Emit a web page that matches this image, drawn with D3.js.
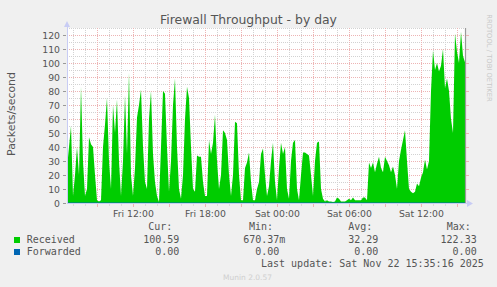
<!DOCTYPE html>
<html><head><meta charset="utf-8">
<script src="https://cdn.jsdelivr.net/npm/d3@7"></script>
<style>
html,body{margin:0;padding:0;background:#F0F0F0;}
svg{display:block;}
</style></head>
<body>
<svg id="chart" width="497" height="287"></svg>
<script>
// ---- data ----
const title = "Firewall Throughput - by day";
const yLabel = "Packets/second";
const startTime = Date.UTC(2025, 10, 21, 6, 28); // first sample
const stepMinutes = 10;
const received = [
25,40,55,5,20,40,20,83,30,5,10,47,42,40,20,2,1,2,40,56,75,30,10,70,50,74,30,5,30,77,35,93,20,5,25,61,70,81,40,15,
10,60,80,35,15,5,0.7,40,80,78,40,8,30,70,89,40,10,3,20,60,83,75,40,10,8,34,33,33,15,5,5,45,35,43,63,30,10,20,52,50,
45,20,5,20,58,57,20,2,2,25,29,36,15,2,2,10,15,35,39,20,5,12,30,43,15,2,25,43,35,40,10,3,30,43,45,10,2,20,36,36,
35,34,20,5,30,43,44,10,3,
1,2,1,1,0.7,1,4,3,1,1,1,2,3,2,4,2,2,2,2,4,4,2,29,25,29,22,28,33,25,22,33,30,27,22,26,20,10,30,38,45,52,30,10,8,7,8,
14,12,18,22,31,24,30,80,109,95,100,94,98,110,82,89,80,60,50,121,108,100,122.33,105,100.59
];
const forwarded = received.map(() => 0);
const yMajorTicks = [0,10,20,30,40,50,60,70,80,90,100,110,120];
const yMinorTicks = [5,15,25,35,45,55,65,75,85,95,105,115,125];
const legendHeaders = ["Cur:", "Min:", "Avg:", "Max:"];
const receivedStats = ["100.59", "670.37m", "32.29", "122.33"];
const forwardedStats = ["0.00", "0.00", "0.00", "0.00"];
const seriesNames = ["Received", "Forwarded"];
const seriesColors = ["#00CC00", "#0066B3"];
const lastUpdate = "Last update: Sat Nov 22 15:35:16 2025";
const footer = "Munin 2.0.57";
const watermark = "RRDTOOL / TOBI OETIKER";

// ---- layout ----
const svg = d3.select("#chart");
const L = 67, R = 466, T = 28, B = 203;
const times = received.map((d, i) => new Date(startTime + i * stepMinutes * 60000));
const x = d3.scaleUtc()
  .domain([new Date(Date.UTC(2025,10,21,6,28)), new Date(Date.UTC(2025,10,22,15,48))])
  .range([67, 467]);
const y = d3.scaleLinear().domain([0, 125]).range([B, T]);

svg.append("rect").attr("width", 497).attr("height", 287).attr("fill", "#F0F0F0");
svg.append("rect").attr("x", L).attr("y", T).attr("width", R - L).attr("height", B - T).attr("fill", "#FFFFFF");

const grid = svg.append("g").attr("shape-rendering", "crispEdges");
const hours = d3.utcHour.range(x.domain()[0], x.domain()[1]);
const minorHours = hours.filter(h => h.getUTCHours() % 3 !== 0);
const majorHours = hours.filter(h => h.getUTCHours() % 3 === 0);
const labelHours = hours.filter(h => h.getUTCHours() % 6 === 0);
const minorColor = "#D2D2D2", majorColor = "#EDB4B4";

// minor grid
grid.selectAll(".vmin").data(minorHours).join("line")
  .attr("x1", d => Math.round(x(d)) + 0.5).attr("x2", d => Math.round(x(d)) + 0.5)
  .attr("y1", T).attr("y2", B)
  .attr("stroke", minorColor).attr("stroke-dasharray", "1,1");
grid.selectAll(".hmin").data(yMinorTicks).join("line")
  .attr("x1", L).attr("x2", R)
  .attr("y1", d => Math.round(y(d)) + 0.5).attr("y2", d => Math.round(y(d)) + 0.5)
  .attr("stroke", minorColor).attr("stroke-dasharray", "1,1");
// major grid
grid.selectAll(".vmaj").data(majorHours).join("line")
  .attr("x1", d => Math.round(x(d)) + 0.5).attr("x2", d => Math.round(x(d)) + 0.5)
  .attr("y1", T).attr("y2", B)
  .attr("stroke", majorColor).attr("stroke-dasharray", "1,1");
grid.selectAll(".hmaj").data(yMajorTicks.filter(v => v > 0)).join("line")
  .attr("x1", L).attr("x2", R)
  .attr("y1", d => Math.round(y(d)) + 0.5).attr("y2", d => Math.round(y(d)) + 0.5)
  .attr("stroke", majorColor).attr("stroke-dasharray", "1,1");

// area
const area = d3.area().x((d, i) => x(times[i])).y0(y(0)).y1(d => y(d)).curve(d3.curveLinear);
svg.append("path").datum(received).attr("d", area).attr("fill", seriesColors[0]);
const line = d3.line().x((d, i) => x(times[i])).y(d => y(d));
svg.append("path").datum(forwarded).attr("d", line).attr("fill", "none").attr("stroke", seriesColors[1]).attr("stroke-width", 1);

// right edge line
svg.append("line").attr("x1", 465.5).attr("x2", 465.5).attr("y1", T).attr("y2", B)
  .attr("stroke", "#9A9A9A").attr("stroke-width", 1.2);

// ticks
const tk = svg.append("g").attr("shape-rendering", "crispEdges");
tk.selectAll(".yt").data(yMajorTicks).join("line")
  .attr("x1", 63).attr("x2", 66).attr("y1", d => Math.round(y(d)) + 0.5).attr("y2", d => Math.round(y(d)) + 0.5)
  .attr("stroke", "#999");
tk.selectAll(".yr").data(yMajorTicks.filter(v => v > 0)).join("line")
  .attr("x1", 466).attr("x2", 469).attr("y1", d => Math.round(y(d)) + 0.5).attr("y2", d => Math.round(y(d)) + 0.5)
  .attr("stroke", majorColor);
tk.selectAll(".xt").data(majorHours).join("line")
  .attr("x1", d => Math.round(x(d)) + 0.5).attr("x2", d => Math.round(x(d)) + 0.5)
  .attr("y1", 204).attr("y2", 207).attr("stroke", majorColor);
tk.selectAll(".xtm").data(minorHours).join("line")
  .attr("x1", d => Math.round(x(d)) + 0.5).attr("x2", d => Math.round(x(d)) + 0.5)
  .attr("y1", 204).attr("y2", 206).attr("stroke", "#DADADA");

// axes
const axisColor = "#C8CCF4";
svg.append("line").attr("x1", L + 0.5).attr("x2", L + 0.5).attr("y1", B).attr("y2", 24).attr("stroke", axisColor);
svg.append("path").attr("d", "M64,27 L70,27 L67,21 Z").attr("fill", axisColor);
svg.append("line").attr("x1", L).attr("x2", 470).attr("y1", B + 0.5).attr("y2", B + 0.5).attr("stroke", axisColor);
svg.append("path").attr("d", "M467,200 L467,207 L473,203.5 Z").attr("fill", axisColor);

// tick labels
const font = "DejaVu Sans";
svg.append("g").selectAll("text").data(yMajorTicks).join("text")
  .attr("x", 60).attr("y", d => y(d) + 3.5).attr("text-anchor", "end")
  .attr("font-family", font).attr("font-size", 9.3).attr("fill", "#555")
  .text(d => d);
const fmt = d3.utcFormat("%a %H:%M");
svg.append("g").selectAll("text").data(labelHours).join("text")
  .attr("x", d => x(d)).attr("y", 216.5).attr("text-anchor", "middle")
  .attr("font-family", font).attr("font-size", 9.3).attr("fill", "#555")
  .text(d => fmt(d));

// title & labels
svg.append("text").attr("x", 248.5).attr("y", 23.5).attr("text-anchor", "middle")
  .attr("font-family", font).attr("font-size", 12.4).attr("fill", "#555").text(title);
svg.append("text").attr("transform", "translate(14.5,114) rotate(-90)").attr("text-anchor", "middle")
  .attr("font-family", font).attr("font-size", 10.9).attr("fill", "#555").text(yLabel);
svg.append("text").attr("transform", "translate(486.5,58) rotate(90)").attr("text-anchor", "middle")
  .attr("font-family", font).attr("font-size", 6.8).attr("fill", "#C8C8C8").text(watermark);

// legend
const mono = "DejaVu Sans Mono";
const lg = svg.append("g").attr("font-family", mono).attr("font-size", 10).attr("fill", "#555");
const headerX = [148.3, 249, 348.3, 446.7];
legendHeaders.forEach((h, i) => lg.append("text").attr("x", headerX[i]).attr("y", 230).text(h));
const valueRight = [179.3, 279.3, 378.3, 476.7];
const rowsY = [242.5, 254.5];
[receivedStats, forwardedStats].forEach((row, r) => {
  svg.append("rect").attr("x", 14).attr("y", rowsY[r] - 5.5).attr("width", 6).attr("height", 6).attr("fill", seriesColors[r]);
  lg.append("text").attr("x", 26.7).attr("y", rowsY[r]).text(seriesNames[r]);
  row.forEach((v, i) => {
    const hasUnit = /[a-zA-Z]$/.test(v);
    lg.append("text").attr("x", valueRight[i] + (hasUnit ? 6 : 0)).attr("y", rowsY[r])
      .attr("text-anchor", "end").text(v);
  });
});
lg.append("text").attr("x", 261).attr("y", 266.5).text(lastUpdate);
svg.append("text").attr("x", 247.5).attr("y", 279.5).attr("text-anchor", "middle")
  .attr("font-family", font).attr("font-size", 7.5).attr("fill", "#CFCFCF").text(footer);
</script>
</body></html>
